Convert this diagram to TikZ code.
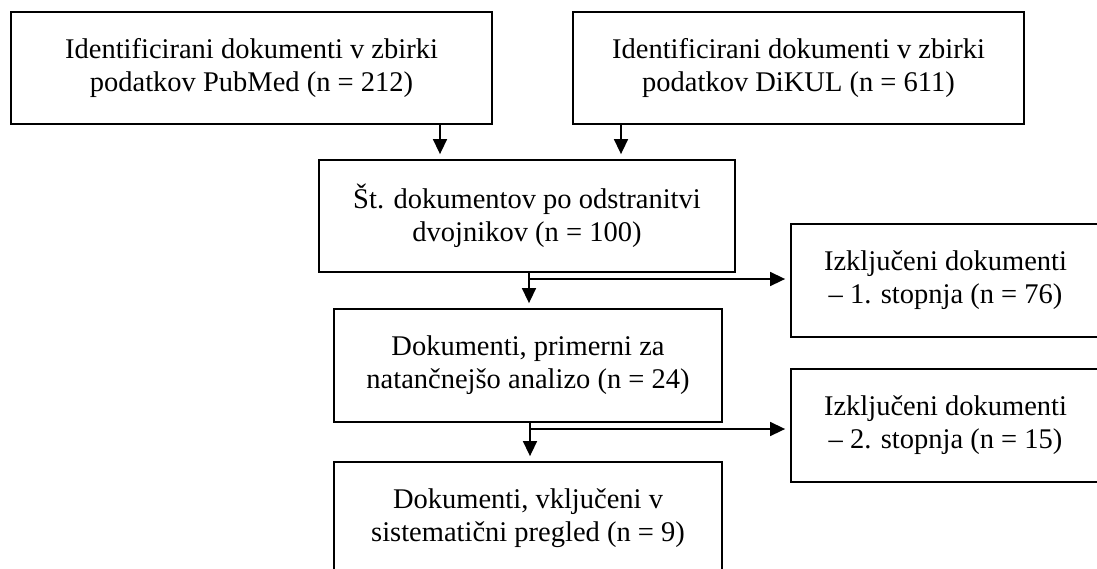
\documentclass[tikz,border=0pt]{standalone}
\usepackage{fontspec}
\setmainfont{Liberation Serif}
\usetikzlibrary{arrows.meta}
\tikzset{
  box/.style={draw=black, line width=1.8pt, inner sep=0pt, align=center,
    font=\fontsize{28.5}{33}\selectfont},
  arr/.style={line width=1.5pt, -{Triangle[length=15pt,width=14pt]}, shorten >=5pt},
  branch/.style={line width=1.5pt}
}
\begin{document}
\begin{tikzpicture}[x=1pt,y=-1pt]
\useasboundingbox (0,0) rectangle (1097,568);
\clip (0,0) rectangle (1097,568);
\node[box, minimum width=481pt, minimum height=112pt] (b1) at (251.5,68)
  {Identificirani dokumenti v zbirki\\podatkov PubMed (n = 212)};
\node[box, minimum width=451pt, minimum height=112pt] (b2) at (798.5,68)
  {Identificirani dokumenti v zbirki\\podatkov DiKUL (n = 611)};
\node[box, minimum width=416pt, minimum height=112pt] (b3) at (527,216)
  {Št. dokumentov po odstranitvi\\dvojnikov (n = 100)};
\node[box, minimum width=388pt, minimum height=113pt] (b4) at (528,365.5)
  {Dokumenti, primerni za\\natančnejšo analizo (n = 24)};
\node[box, minimum width=388pt, minimum height=113pt] (b5) at (528,518.5)
  {Dokumenti, vključeni v\\sistematični pregled (n = 9)};
\node[box, minimum width=309pt, minimum height=113pt] (e1) at (945.5,280.5)
  {Izključeni dokumenti\\– 1. stopnja (n = 76)};
\node[box, minimum width=309pt, minimum height=113pt] (e2) at (945.5,425.5)
  {Izključeni dokumenti\\– 2. stopnja (n = 15)};
\coordinate (c1) at (440,0);
\coordinate (c2) at (621,0);
\coordinate (c3) at (529,0);
\coordinate (c4) at (530,0);
\coordinate (s1) at (529,279);
\coordinate (s2) at (530,429);
\draw[arr] (b1.south -| c1) -- (b3.north -| c1);
\draw[arr] (b2.south -| c2) -- (b3.north -| c2);
\draw[arr] (b3.south -| c3) -- (b4.north -| c3);
\draw[arr] (s1) -- (s1 -| e1.west);
\draw[arr] (b4.south -| c4) -- (b5.north -| c4);
\draw[arr] (s2) -- (s2 -| e2.west);
\end{tikzpicture}
\end{document}
